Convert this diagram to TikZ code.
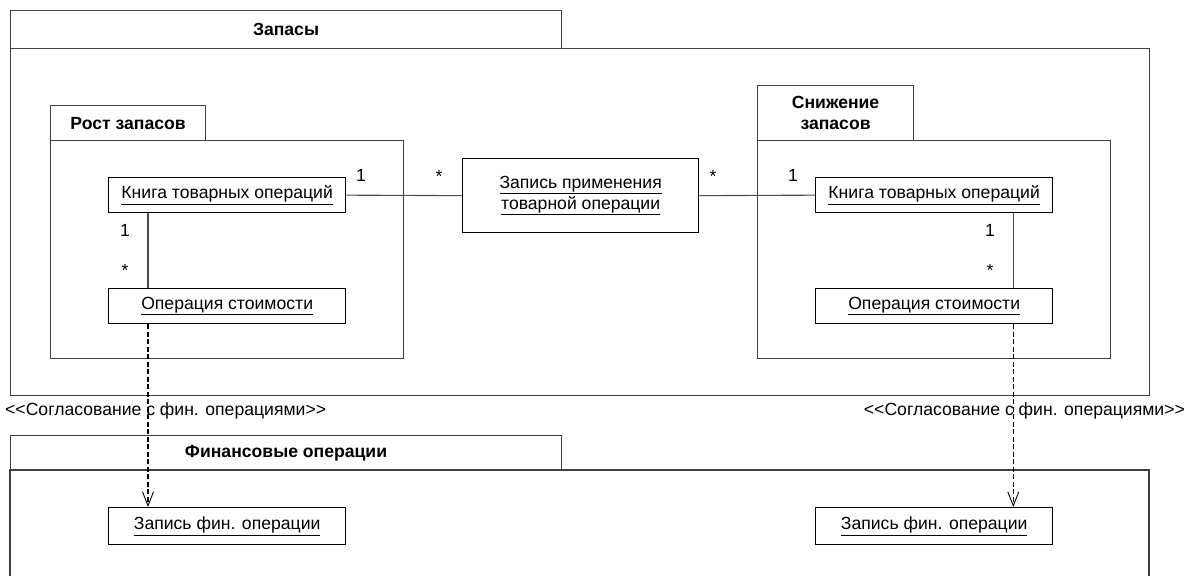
\documentclass[tikz,border=0pt]{standalone}
\usepackage{fontspec}
\setmainfont{Liberation Sans}
\usetikzlibrary{arrows.meta,calc}
\newcommand{\dfont}{\fontsize{17.6}{20}\selectfont}
\tikzset{
  pkg/.style={draw=black!75, line width=1.1pt, anchor=north west, inner sep=0pt, font=\dfont\bfseries},
  cls/.style={draw=black, line width=1.3pt, anchor=north west, inner sep=0pt, align=center},
  assoc/.style={draw=black!70, line width=1.1pt},
  dep/.style={draw=black, line width=1.3pt, dash pattern=on 5pt off 2.5pt, -{Straight Barb[length=14pt,width=11pt,line width=0.9pt]}},
  mult/.style={inner sep=0pt},
  stereo/.style={inner sep=0pt}
}
\begin{document}
\begin{tikzpicture}[x=1pt,y=-1pt,font=\dfont]
\useasboundingbox (0,0) rectangle (1186,576);
% Package Запасы
\node[pkg, minimum width=1139pt, minimum height=347pt] (zapBody) at (10,48) {};
\node[pkg, minimum width=551pt, minimum height=38pt] (zapTab) at (10,10) {Запасы};
% Package Рост запасов
\node[pkg, minimum width=353pt, minimum height=218pt] (rostBody) at (50,140) {};
\node[pkg, minimum width=155pt, minimum height=35pt] (rostTab) at (50,105) {Рост запасов};
% Package Снижение запасов
\node[pkg, minimum width=156pt, minimum height=55pt, align=center] (snTab) at (757,85) {Снижение\\[1pt]запасов};
\node[pkg, minimum width=353pt, minimum height=218pt] (snBody) at (757,140) {};
% Package Финансовые операции
\draw[draw=black!75, line width=1.1pt] (10,576) -- (10,470) -- (1149,470) -- (1149,576);
\node[pkg, minimum width=551pt, minimum height=35pt] (finTab) at (10,435) {Финансовые операции};
% Classes
\node[cls, minimum width=237pt, minimum height=35pt] (knL) at (108,177) {\underline{Книга товарных операций}};
\node[cls, minimum width=237pt, minimum height=35pt] (opL) at (108,288) {\underline{Операция стоимости}};
\node[cls, minimum width=236pt, minimum height=74pt] (zap) at (462,158) {\underline{Запись применения}\\[1pt]\underline{товарной операции}};
\node[cls, minimum width=237pt, minimum height=35pt] (knR) at (815,177) {\underline{Книга товарных операций}};
\node[cls, minimum width=237pt, minimum height=35pt] (opR) at (815,288) {\underline{Операция стоимости}};
\node[cls, minimum width=237pt, minimum height=37pt] (finL) at (108,507) {\underline{Запись фин. операции}};
\node[cls, minimum width=237pt, minimum height=37pt] (finR) at (815,507) {\underline{Запись фин. операции}};
% Associations
\draw[assoc] (knL.east) -- (zap.west);
\draw[assoc] (zap.east) -- (knR.west);
\draw[assoc] ($(knL.south west)+(40,0)$) -- ($(opL.north west)+(40,0)$);
\draw[assoc] ($(knR.south east)+(-40,0)$) -- ($(opR.north east)+(-40,0)$);
% Multiplicities
\node[mult] (m1) at (361,175) {1};
\node[mult] (m2) at (439,176) {*};
\node[mult] (m3) at (713,176) {*};
\node[mult] (m4) at (793,175) {1};
\node[mult] (m5) at (125,230) {1};
\node[mult] (m6) at (125,270) {*};
\node[mult] (m7) at (990,230) {1};
\node[mult] (m8) at (990,270) {*};
% Dependencies
\draw[dep] ($(opL.south west)+(40,0)$) -- ($(finL.north west)+(40,0)$);
\draw[dep] ($(opR.south east)+(-40,0)$) -- ($(finR.north east)+(-40,0)$);
\node[stereo, anchor=west] (stL) at (5,411) {<\kern0pt<Согласование с фин. операциями>\kern0pt>};
\node[stereo, anchor=east] (stR) at (1185,411) {<\kern0pt<Согласование с фин. операциями>\kern0pt>};
\end{tikzpicture}
\end{document}
